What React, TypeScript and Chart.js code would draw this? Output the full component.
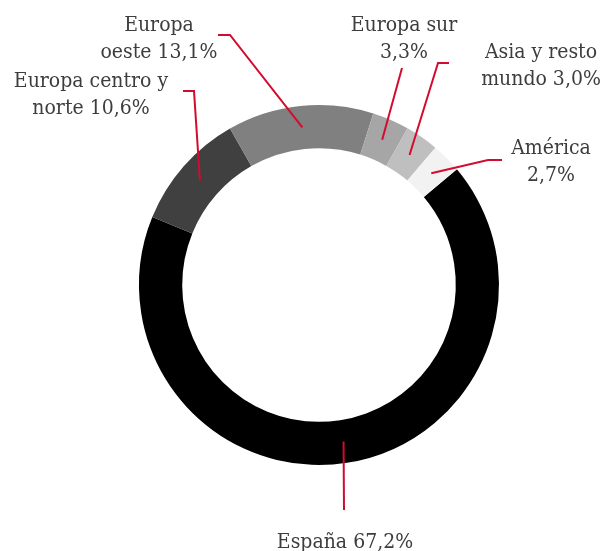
import React, { useEffect, useRef } from "react";
import { Chart, registerables } from "chart.js";

Chart.register(...registerables);

// ---- Data ----
const categories = [
  "España",
  "Europa centro y norte",
  "Europa oeste",
  "Europa sur",
  "Asia y resto mundo",
  "América",
];
const shares = [67.2, 10.6, 13.1, 3.3, 3.0, 2.7];
const labelTexts = [
  ["España 67,2%"],
  ["Europa centro y", "norte 10,6%"],
  ["Europa", "oeste 13,1%"],
  ["Europa sur", "3,3%"],
  ["Asia y resto", "mundo 3,0%"],
  ["América", "2,7%"],
];
const sliceColors = ["#000000", "#404040", "#808080", "#a6a6a6", "#bfbfbf", "#f2f2f2"];

// ---- Label layout (text anchor + leader path on label side) ----
const labelLayout = [
  { x: 345, y: 548, path: [[344, 510]] },
  { x: 91, y: 87, path: [[183, 91], [194, 91]] },
  { x: 159, y: 31, path: [[218, 35], [230, 35]] },
  { x: 404, y: 31, path: [[402, 68]] },
  { x: 541, y: 58, path: [[449, 63], [438, 63]] },
  { x: 551, y: 154, path: [[502, 160], [488, 160]] },
];

const FONT = "21px 'DejaVu Serif Condensed', 'DejaVu Serif', serif";
const LINE_H = 26.5;
const LEADER = "#d30b2f";

const labelPlugin = {
  id: "outerLabels",
  afterDatasetsDraw(chart: any) {
    const ctx = chart.ctx;
    const meta = chart.getDatasetMeta(0);
    ctx.save();
    meta.data.forEach((arc: any, i: number) => {
      const lay = labelLayout[i];
      const c = arc.tooltipPosition(false);
      ctx.beginPath();
      ctx.moveTo(lay.path[0][0], lay.path[0][1]);
      for (let k = 1; k < lay.path.length; k++) ctx.lineTo(lay.path[k][0], lay.path[k][1]);
      ctx.lineTo(c.x, c.y);
      ctx.strokeStyle = LEADER;
      ctx.lineWidth = 2;
      ctx.lineJoin = "miter";
      ctx.stroke();
    });
    ctx.font = FONT;
    ctx.fillStyle = "#3d3d3d";
    ctx.textAlign = "center";
    ctx.textBaseline = "alphabetic";
    labelTexts.forEach((lines, i) => {
      const lay = labelLayout[i];
      lines.forEach((t, j) => ctx.fillText(t, lay.x, lay.y + j * LINE_H));
    });
    ctx.restore();
  },
};

export default function App() {
  const ref = useRef<HTMLCanvasElement | null>(null);
  useEffect(() => {
    if (!ref.current) return;
    const chart = new Chart(ref.current, {
      type: "doughnut",
      data: {
        labels: categories,
        datasets: [
          {
            data: shares,
            backgroundColor: sliceColors,
            borderWidth: 0,
          },
        ],
      },
      options: {
        responsive: false,
        animation: false,
        devicePixelRatio: 1,
        rotation: 50,
        cutout: "76%",
        layout: { padding: { left: 139, right: 106, top: 105, bottom: 86 } },
        plugins: {
          legend: { display: false },
          tooltip: { enabled: false },
        },
      },
      plugins: [labelPlugin],
    } as any);
    return () => chart.destroy();
  }, []);
  return (
    <div style={{ position: "absolute", left: 0, top: 0, width: 605, height: 551, background: "#fff" }}>
      <canvas ref={ref} width={605} height={551} />
    </div>
  );
}
